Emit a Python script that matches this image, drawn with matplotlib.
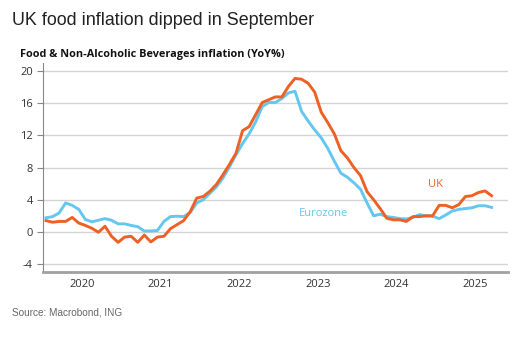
import matplotlib
matplotlib.use("Agg")
import matplotlib.pyplot as plt
import numpy as np

plt.rcParams['axes.unicode_minus'] = False

# monthly values, Jan 2020 .. Sep 2025
uk = [1.4, 1.2, 1.3, 1.3, 1.8, 1.1, 0.8, 0.45, -0.05, 0.7, -0.55, -1.3,
      -0.65, -0.55, -1.3, -0.4, -1.25, -0.65, -0.55, 0.4, 0.9, 1.4, 2.5, 4.2,
      4.4, 5.05, 5.9, 7.1, 8.4, 9.8, 12.6, 13.1, 14.6, 16.1, 16.45, 16.8,
      16.8, 18.1, 19.1, 19.0, 18.5, 17.4, 14.9, 13.6, 12.2, 10.1, 9.2, 8.0,
      7.0, 5.0, 4.0, 2.9, 1.7, 1.5, 1.5, 1.3, 1.9, 1.9, 2.0, 2.0,
      3.3, 3.3, 3.0, 3.4, 4.4, 4.5, 4.9, 5.1, 4.5]
eurozone = [1.75, 1.9, 2.35, 3.6, 3.3, 2.8, 1.55, 1.25, 1.45, 1.65, 1.45, 1.0,
            1.0, 0.8, 0.65, 0.1, 0.12, 0.16, 1.3, 1.9, 1.95, 1.9, 2.4, 3.6,
            4.0, 4.8, 5.6, 6.7, 8.1, 9.6, 11.0, 12.2, 13.7, 15.6, 16.1, 16.1,
            16.6, 17.3, 17.5, 15.0, 13.8, 12.7, 11.7, 10.4, 8.8, 7.3, 6.8, 6.1,
            5.3, 3.6, 2.0, 2.2, 1.9, 1.8, 1.65, 1.6, 1.8, 2.15, 2.0, 1.95,
            1.65, 2.1, 2.6, 2.8, 2.9, 3.0, 3.25, 3.25, 3.05]
years = ['2020', '2021', '2022', '2023', '2024', '2025']
yticks = [-4, 0, 4, 8, 12, 16, 20]

c_uk = '#ee6124'
c_ez = '#63c7ef'
txt = '#333333'

fig = plt.figure(figsize=(5.21, 3.47), dpi=100)
ax = fig.add_axes([0.082, 0.216, 0.893, 0.602])

x = np.arange(len(uk)) + 0.5
ax.plot(x, eurozone, color=c_ez, linewidth=2.1, zorder=3)
ax.plot(x, uk, color=c_uk, linewidth=2.1, zorder=4)

ax.set_xlim(0, 71)
ax.set_ylim(-5, 21)
ax.set_yticks(yticks)
ax.set_yticklabels([str(v) for v in yticks], fontsize=8, color=txt, family='Open Sans')
ax.set_xticks([6 + 12 * i for i in range(len(years))])
ax.set_xticklabels(years, fontsize=8, color=txt, family='Open Sans')
ax.tick_params(axis='x', length=0, pad=5)
ax.tick_params(axis='y', length=4, width=0.8, color='#888888', pad=3)
ax.grid(axis='y', color='#d4d4d4', linewidth=1.0)
ax.set_axisbelow(True)

for s in ['top', 'right']:
    ax.spines[s].set_visible(False)
ax.spines['left'].set_color('#888888')
ax.spines['left'].set_linewidth(0.8)
ax.spines['bottom'].set_color('#a0a0a0')
ax.spines['bottom'].set_linewidth(2.0)

ax.text(59.9, 5.9, 'UK', color=c_uk, fontsize=8, ha='center', va='center', family='Open Sans')
ax.text(42.9, 2.3, 'Eurozone', color=c_ez, fontsize=8, ha='center', va='center', family='Open Sans')

fig.text(0.023, 0.942, 'UK food inflation dipped in September', fontsize=12.9,
         color='#222222', family='Liberation Sans', va='center')
fig.text(0.038, 0.842, 'Food & Non-Alcoholic Beverages inflation (YoY%)', fontsize=7.8,
         fontweight='bold', color='#111111', family='Open Sans', va='center')
fig.text(0.023, 0.098, 'Source: Macrobond, ING', fontsize=7.2, color='#666666',
         family='Liberation Sans', va='center')

fig.savefig('out.png', dpi=100)
